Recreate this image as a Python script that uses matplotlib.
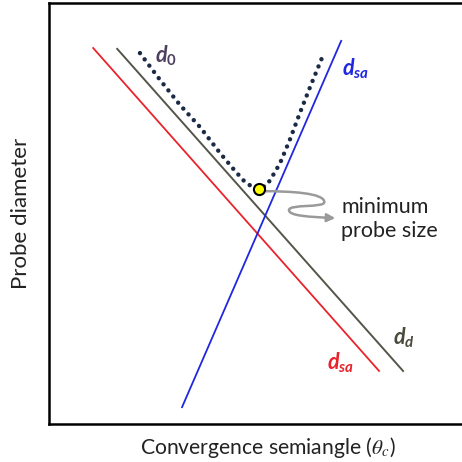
import matplotlib
matplotlib.use("Agg")
import matplotlib.pyplot as plt
from matplotlib.path import Path
from matplotlib.patches import FancyArrowPatch

plt.rcParams["font.family"] = ["Lato", "DejaVu Sans"]
plt.rcParams["mathtext.fontset"] = "custom"
plt.rcParams["mathtext.it"] = "Lato:italic:bold"
plt.rcParams["mathtext.rm"] = "Lato:bold"

# Schematic probe-size contributions versus convergence semiangle (arbitrary units)
red_x = [10.5, 78.4]
red_y = [89.3, 12.6]
dd_x = [16.2, 84.1]
dd_y = [89.1, 12.6]
blue_x = [31.6, 69.4]
blue_y = [4.0, 91.0]

# Total probe diameter d0
d0_x = [21.6, 26.4, 31.1, 35.9, 40.6, 44.2, 46.8, 48.5, 49.9,
        51.8, 53.7, 54.9, 57.2, 59.6, 62.0, 65.1]
d0_y = [88.1, 81.7, 75.8, 70.5, 64.4, 60.1, 57.2, 56.3, 55.8,
        56.8, 59.9, 62.0, 67.5, 73.9, 80.0, 87.6]
min_x, min_y = 49.9, 55.8

# Squiggly pointer from the minimum to its caption
wave_pts = [(50.8, 55.3), (57.2, 55.3), (65.4, 54.9), (65.4, 52.7),
            (65.4, 51.3), (57.0, 52.3), (57.0, 50.8), (57.0, 49.4),
            (62.0, 49.2), (68.0, 48.9)]
wave_codes = [Path.MOVETO] + [Path.CURVE4] * 9

fig = plt.figure(figsize=(4.62, 4.62), dpi=100)
ax = fig.add_axes([49 / 462, 38 / 462, 430 / 462, 421 / 462])
ax.set_xlim(0, 100 * 430 / 421)
ax.set_ylim(0, 100)
ax.set_xticks([])
ax.set_yticks([])
for side in ("left", "bottom", "top"):
    ax.spines[side].set_linewidth(1.8)
    ax.spines[side].set_color("black")
ax.spines["right"].set_visible(False)

ax.plot(red_x, red_y, color="#e8232b", lw=1.3)
ax.plot(dd_x, dd_y, color="#55554a", lw=1.4)
ax.plot(blue_x, blue_y, color="#1f27e0", lw=1.3)
ax.plot(d0_x, d0_y, color="#1b2a45", lw=3.2, linestyle=(0, (0.01, 1.75)),
        dash_capstyle="round", solid_capstyle="round")
ax.plot([min_x], [min_y], marker="o", ms=8, mfc="#ffff00", mec="black",
        mew=1.5, zorder=5)

arrow = FancyArrowPatch(path=Path(wave_pts, wave_codes), arrowstyle="-|>",
                        mutation_scale=12, color="#9a9a9a", lw=1.8, zorder=4)
ax.add_patch(arrow)

ax.text(69.4, 48.7, "minimum\nprobe size", fontsize=15.5, color="#222222",
        ha="left", va="center", linespacing=1.2)

ax.text(25.2, 87.6, r"$d_0$", fontsize=15.5, color="#4d4060", ha="left", va="center")
ax.text(69.6, 84.4, r"$d_{sa}$", fontsize=15.5, color="#1f27e0", ha="left", va="center")
ax.text(81.8, 20.4, r"$d_d$", fontsize=15.5, color="#4a4a3a", ha="left", va="center")
ax.text(66.0, 14.5, r"$d_{sa}$", fontsize=15.5, color="#e8232b", ha="left", va="center")

ax.set_ylabel("Probe diameter", fontsize=16, color="#222222", va="center")
ax.yaxis.set_label_coords(-0.064, 0.5)
ax.set_xlabel(r"Convergence semiangle ($\theta_c$)", fontsize=15.2, color="#222222",
              va="center", math_fontfamily="stix")
ax.xaxis.set_label_coords(0.509, -0.055)

fig.savefig("out.png", dpi=100)
